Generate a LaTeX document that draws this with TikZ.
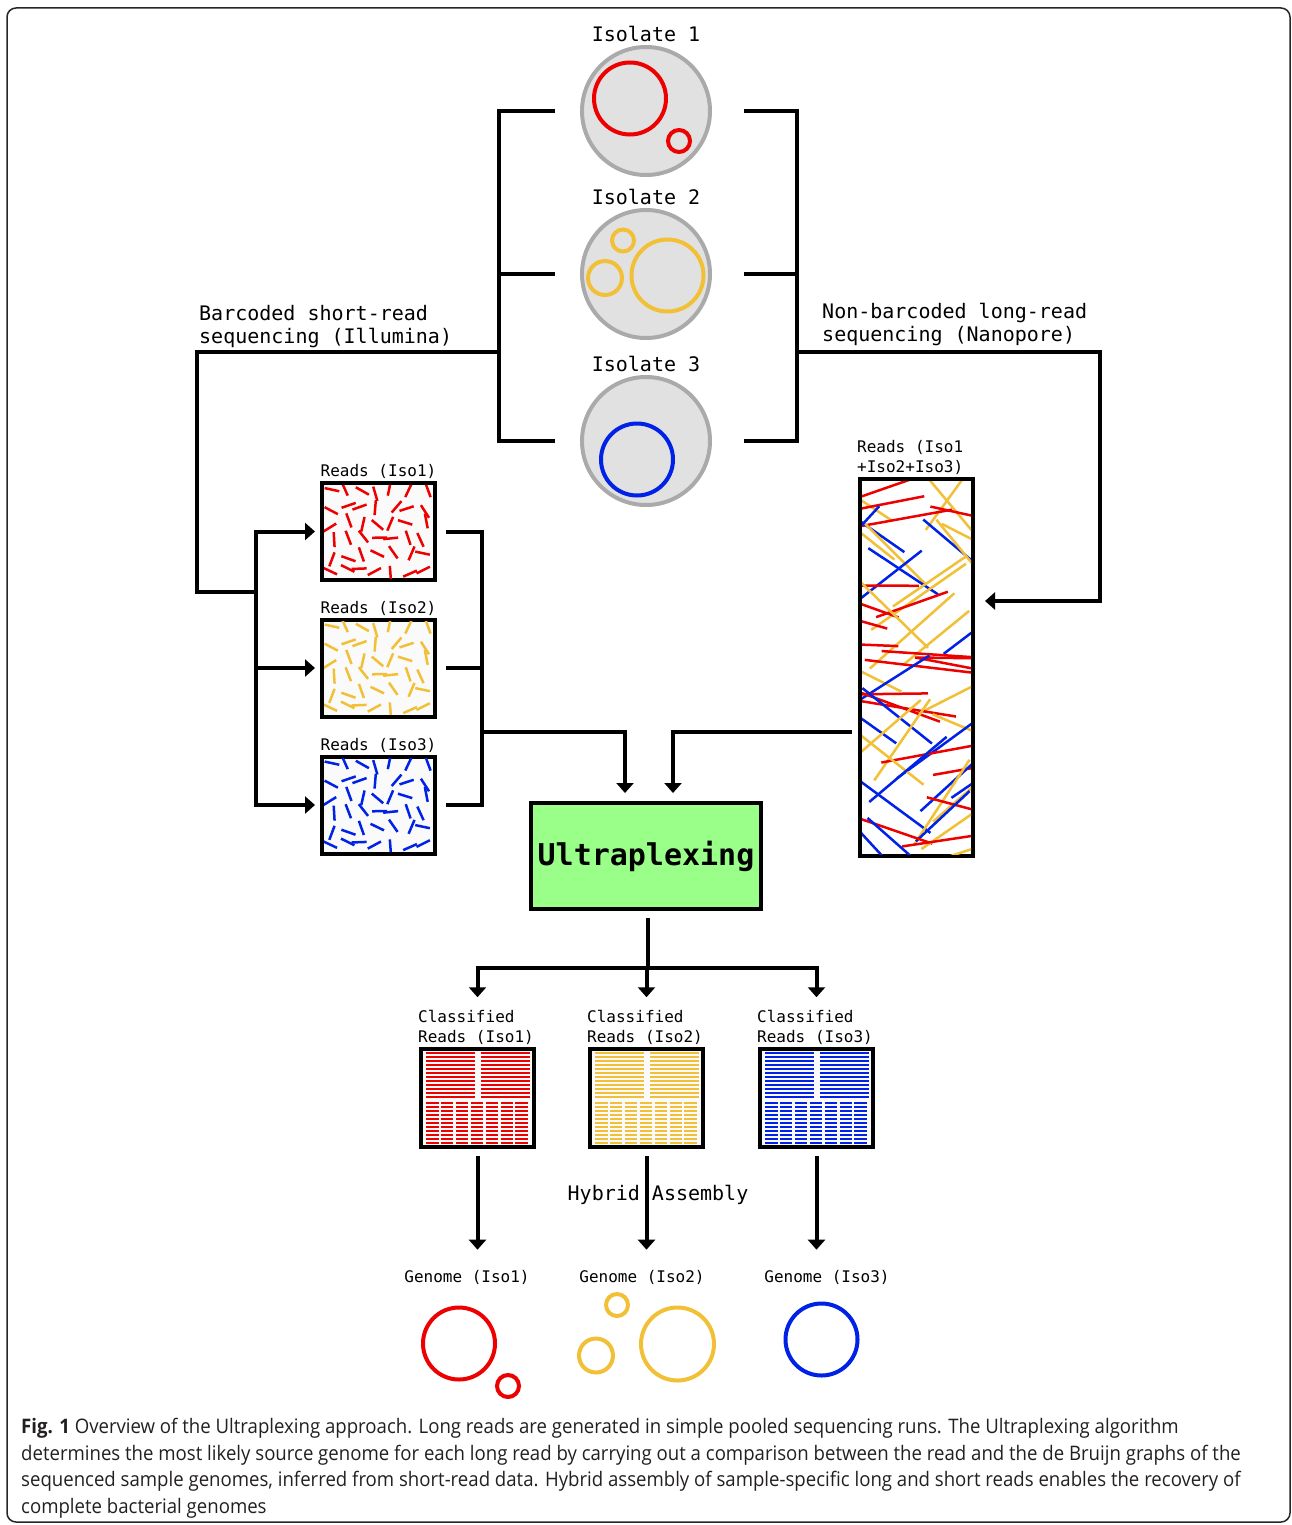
\documentclass[tikz,border=0pt]{standalone}
\usepackage{fontspec}
\setmonofont{DejaVu Sans Mono}
\newfontfamily\capfont[FakeStretch=0.93]{Open Sans}
\usepackage{xcolor}
\usepackage{tikz}
\usetikzlibrary{arrows.meta,calc}

\definecolor{readred}{RGB}{236,0,0}
\definecolor{readyel}{RGB}{242,192,54}
\definecolor{readblue}{RGB}{0,34,230}
\definecolor{cellgray}{RGB}{170,170,170}
\definecolor{cellfill}{RGB}{225,225,225}
\definecolor{ultragreen}{RGB}{153,255,136}
\definecolor{boxfill}{RGB}{250,250,250}
\definecolor{captext}{RGB}{35,31,32}

% scattered short reads inside a box node: #1 box, #2 colour
\newcommand{\shortreads}[2]{%
  \begin{scope}
    \pgfmathsetseed{42}
    \clip ([shift={(4,-4)}]#1.south west) rectangle ([shift={(-4,4)}]#1.north east);
    \foreach \i in {0,...,6}
      \foreach \j in {0,...,5}{
        \pgfmathsetmacro{\px}{11+\i*15.5+4*rand}
        \pgfmathsetmacro{\py}{11+\j*16+4*rand}
        \pgfmathsetmacro{\ang}{180*rnd}
        \draw[#2,line width=2.5pt] ([shift={(\px,\py)}]#1.north west) ++(\ang:7.5) -- ++(\ang+180:15);
      }
  \end{scope}}

% sorted reads inside a box node: #1 box, #2 colour
\newcommand{\sortedreads}[2]{%
  \foreach \k in {0,...,11}{
    \draw[#2,line width=2pt] ([shift={(7,6+\k*4)}]#1.north west) -- ++(49,0);
    \draw[#2,line width=2pt] ([shift={(62,6+\k*4)}]#1.north west) -- ++(49,0);
  }
  \foreach \k in {0,...,10}
    \foreach \c in {0,...,6}
      \draw[#2,line width=2pt] ([shift={(7+\c*14.9,56+\k*4)}]#1.north west) -- ++(12.5,0);
}

\begin{document}
\begin{tikzpicture}[x=1pt,y=-1pt,
    wire/.style={line width=4pt,line cap=rect},
    arr/.style={-{Triangle[width=17pt,length=10pt]}},
    cell/.style={circle,draw=cellgray,fill=cellfill,line width=4pt,minimum size=128pt,inner sep=0pt},
    readbox/.style={draw,line width=4pt,fill=boxfill,minimum width=113pt,minimum height=97pt,inner sep=0pt},
    ultrabox/.style={draw,line width=4pt,fill=ultragreen,minimum width=230pt,minimum height=106pt,
      font=\fontsize{30}{36}\selectfont\ttfamily\bfseries},
    biglabel/.style={font=\fontsize{20}{23}\selectfont\ttfamily,inner sep=2pt},
    smalllabel/.style={font=\fontsize{16}{20}\selectfont\ttfamily,inner sep=2pt}]
\useasboundingbox (0,0) rectangle (1292,1525);

% Frame
\draw[line width=1.5pt,rounded corners=9pt,black!85] (7,8) rectangle (1290,1522);

% Isolates
\foreach \n/\yy in {1/111, 2/274, 3/441}{
  \node[cell] (iso\n) at (646,\yy) {};
  \node[biglabel] (isolab\n) at (646,\yy-77) {Isolate \n};
}
\draw[readred,line width=4pt] (630,98.5) circle (36);
\draw[readred,line width=4pt] (679,141) circle (11);
\draw[readyel,line width=4pt] (667.5,275.5) circle (36);
\draw[readyel,line width=4pt] (623,240.5) circle (11);
\draw[readyel,line width=4pt] (605,278) circle (17);
\draw[readblue,line width=4pt] (637,459.5) circle (36);

% Brackets
\draw[wire] ([xshift=-27pt]iso1.west) -- ++(-54,0) |- ([xshift=-27pt]iso3.west);
\draw[wire] ([xshift=-27pt]iso2.west) -- ++(-54,0);
\draw[wire] ([xshift=34pt]iso1.east) -- ++(51,0) |- ([xshift=34pt]iso3.east);
\draw[wire] ([xshift=34pt]iso2.east) -- ++(51,0);

\coordinate (lsplit) at (499,352);
\coordinate (lcorner) at (197,592);
\coordinate (lfork) at (256,592);
\coordinate (lmerge) at (482,732);
\coordinate (rsplit) at (797,352);
\coordinate (rturn) at (1100,352);
\coordinate (usplit) at (648,968);

\node[biglabel,align=left,anchor=north west] (srseq) at (197,303)
  {Barcoded short-read\\sequencing (Illumina)};
\node[biglabel,align=left,anchor=north west] (lrseq) at (820,301)
  {Non-barcoded long-read\\sequencing (Nanopore)};

% Short reads
\foreach \n/\yy/\col in {1/531.5/readred, 2/668/readyel, 3/805/readblue}{
  \node[readbox] (sr\n) at (378.5,\yy) {};
  \node[smalllabel,anchor=south] (srlab\n) at (sr\n.north) {Reads (Iso\n)};
  \shortreads{sr\n}{\col}
}

% Long reads
\node[readbox,fill=white,minimum height=377pt] (lr) at (916.5,667.5) {};
\node[smalllabel,align=left,anchor=south west] (lrlab) at ([xshift=-3pt]lr.north west)
  {Reads (Iso1\\+Iso2+Iso3)};
\begin{scope}
  \pgfmathsetseed{23}
  \clip ([shift={(4,-4)}]lr.south west) rectangle ([shift={(-4,4)}]lr.north east);
  \foreach \k in {0,...,59}{
    \pgfmathsetmacro{\ci}{int(random(0,2))}
    \ifcase\ci
      \def\col{readred}\def\abase{0}\def\aspread{22}%
    \or
      \def\col{readblue}\def\abase{40}\def\aspread{8}%
    \or
      \def\col{readyel}\def\abase{38}\def\aspread{20}%
    \fi
    \pgfmathsetmacro{\px}{-10+137*rnd}
    \pgfmathsetmacro{\py}{\k*6.35+6.35*rnd}
    \pgfmathsetmacro{\sgn}{rnd<0.5 ? -1 : 1}
    \pgfmathsetmacro{\ang}{(\abase+\aspread*rand)*\sgn}
    \pgfmathsetmacro{\len}{34+24*rnd}
    \pgfmathsetmacro{\lenb}{2*\len}
    \draw[\col,line width=2.5pt] ([shift={(\px,\py)}]lr.north west) ++(\ang:\len) -- ++(\ang+180:\lenb);
  }
\end{scope}

% Ultraplexing
\node[ultrabox] (ultra) at (646,856) {Ultraplexing};

% Routes to the reads
\draw[wire] (lsplit) -| (lcorner) -- (lfork);
\draw[wire] (sr1.west -| lfork) -- (sr3.west -| lfork);
\foreach \n in {1,2,3}
  \draw[wire,arr,shorten >=5pt] (sr\n.west -| lfork) -- (sr\n.west);
\draw[wire,arr] (rsplit) -- (rturn) |- ([xshift=10pt,yshift=66.5pt]lr.east);

% Routes to Ultraplexing
\foreach \n in {1,2,3}
  \draw[wire] ([xshift=11pt]sr\n.east) -- (sr\n.east -| lmerge);
\draw[wire] (sr1.east -| lmerge) -- (sr3.east -| lmerge);
\draw[wire,arr,shorten >=8pt] (lmerge) -| ([xshift=-21pt]ultra.north);
\draw[wire,arr,shorten >=8pt] ([xshift=-8pt,yshift=-64.5pt]lr.west) -| ([xshift=27pt]ultra.north);

% Classified reads
\foreach \n/\xx/\col in {1/477.5/readred, 2/646.5/readyel, 3/816.5/readblue}{
  \node[readbox,minimum height=98pt] (cl\n) at (\xx,1098) {};
  \node[smalllabel,align=left,anchor=south west] (cllab\n) at ([xshift=-3pt]cl\n.north west)
    {Classified\\Reads (Iso\n)};
  \sortedreads{cl\n}{\col}
}
\draw[wire] (usplit |- ultra.south) ++(0,9) -- (usplit);
\draw[wire] (cl1.center |- usplit) -- (cl3.center |- usplit);
\foreach \n in {1,2,3}
  \draw[wire,arr,shorten >=11pt] (cl\n.center |- usplit) -- (cl\n.center |- cllab\n.north);

% Genomes
\foreach \n/\xx in {1/467, 2/642, 3/827}
  \node[smalllabel] (genlab\n) at (\xx,1277) {Genome (Iso\n)};
\foreach \n in {1,2,3}
  \draw[wire,arr,shorten <=9pt,shorten >=18pt] (cl\n.south) -- (cl\n.south |- genlab\n.north);
\node[biglabel] (hybrid) at (658,1195) {Hybrid Assembly};

\draw[readred,line width=4pt] (459,1343.5) circle (36);
\draw[readred,line width=4pt] (508,1386) circle (11);
\draw[readyel,line width=4pt] (617,1305) circle (11);
\draw[readyel,line width=4pt] (596,1355.5) circle (17);
\draw[readyel,line width=4pt] (677.5,1344) circle (36.5);
\draw[readblue,line width=4pt] (821.5,1339.5) circle (36);

% Caption
\node[anchor=north west,align=left,inner sep=0pt,text=captext,
  font=\fontsize{20}{26.5}\selectfont\capfont] (caption) at (21,1418)
  {{\bfseries Fig. 1} Overview of the Ultraplexing approach. Long reads are generated in simple pooled sequencing runs. The Ultraplexing algorithm\\
   determines the most likely source genome for each long read by carrying out a comparison between the read and the de Bruijn graphs of the\\
   sequenced sample genomes, inferred from short-read data. Hybrid assembly of sample-specific long and short reads enables the recovery of\\
   complete bacterial genomes};
\end{tikzpicture}
\end{document}
